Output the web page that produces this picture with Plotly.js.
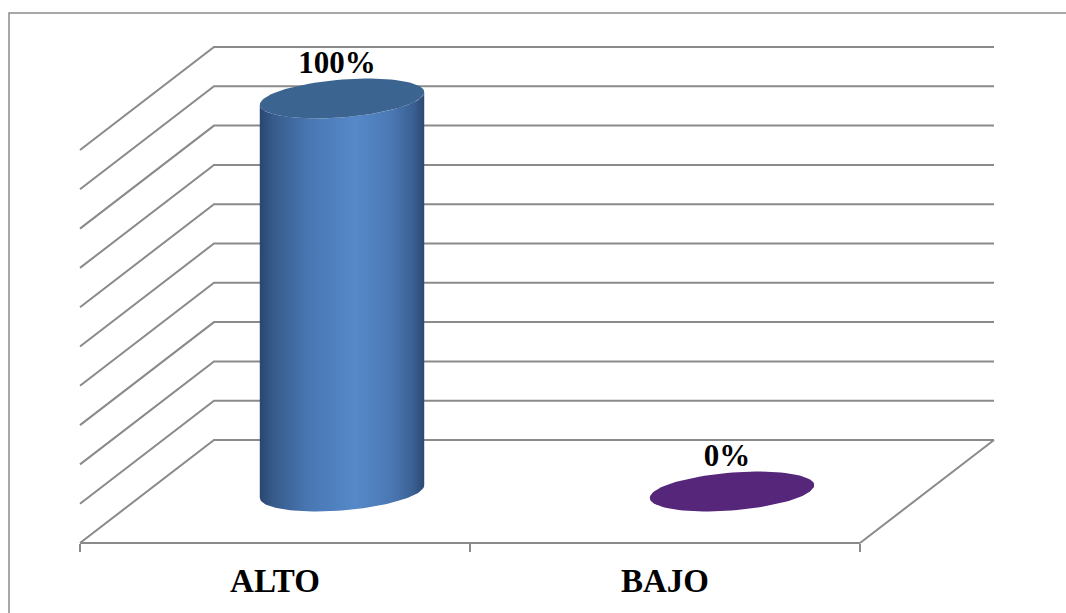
<!DOCTYPE html>
<html>
<head>
<meta charset="utf-8">
<script src="https://cdn.plot.ly/plotly-3.0.1.min.js"></script>
<style>html,body{margin:0;padding:0;background:#fff}#chart{width:1066px;height:613px}</style>
</head>
<body>
<div id="chart"></div>
<script>
// ---- data ----
const categories = ['ALTO', 'BAJO'];
const values = [1.0, 0.0];
const valueLabels = ['100%', '0%'];
const gridValues = [0, 0.1, 0.2, 0.3, 0.4, 0.5, 0.6, 0.7, 0.8, 0.9, 1.0];

// ---- projection (front plane units: 1 per category, 1 per 100%) ----
const DX = 134 / 390;   // x shift for full depth
const DY = 103 / 393;   // y shift for full depth
const BAR_DEPTH = 0.5;  // bars stand half way into the floor
const RX = 78 / 390;    // cylinder radius along x
const RD = 0.194;       // cylinder radius along depth
const LABEL_LIFT = 33 / 393;
const X0 = -0.5, X1 = 1.5;

const gridColor = '#8a8a8a';
const font = 'Liberation Serif, Times New Roman, serif';

// grid: back wall + side wall lines, floor right edge
const gx = [], gy = [];
gridValues.forEach(v => {
  gx.push(X0, X0 + DX, X1 + DX, null);
  gy.push(v, v + DY, v + DY, null);
});
gx.push(X1, X1 + DX, null);
gy.push(0, DY, null);

const traces = [{
  type: 'scatter', mode: 'lines', x: gx, y: gy,
  line: {color: gridColor, width: 2}, hoverinfo: 'skip', showlegend: false
}];

function ellipse(cx, cy, t0, t1, n) {
  const xs = [], ys = [];
  for (let i = 0; i <= n; i++) {
    const t = t0 + (t1 - t0) * i / n;
    xs.push(cx + RX * Math.cos(t) + RD * DX * Math.sin(t));
    ys.push(cy + RD * DY * Math.sin(t));
  }
  return [xs, ys];
}
const th = Math.atan2(RD * DX * 390, RX * 390); // silhouette angle

const bodyScale = [[0, '#2a4670'], [0.08, '#375b8a'], [0.3, '#4877b3'], [0.58, '#5689c9'],
                   [0.8, '#4a78b4'], [0.93, '#3b6194'], [1, '#2b4972']];
const topColors = ['#3c6491', '#56267a'];

categories.forEach((c, i) => {
  const cx = i + BAR_DEPTH * DX;
  const base = BAR_DEPTH * DY;
  const top = base + values[i];
  if (values[i] > 0) {
    const [tx, ty] = ellipse(cx, top, th, th - Math.PI, 60);
    const [bx, by] = ellipse(cx, base, th - Math.PI, th, 60);
    traces.push({
      type: 'scatter', mode: 'lines', x: tx.concat(bx), y: ty.concat(by),
      fill: 'toself', line: {width: 0, color: 'rgba(0,0,0,0)'},
      fillgradient: {type: 'horizontal', colorscale: bodyScale},
      hoverinfo: 'skip', showlegend: false
    });
  }
  const [ex, ey] = ellipse(cx, top, 0, 2 * Math.PI, 90);
  traces.push({
    type: 'scatter', mode: 'lines', x: ex, y: ey, fill: 'toself',
    fillcolor: topColors[i], line: {width: 0, color: topColors[i]},
    hoverinfo: 'skip', showlegend: false
  });
  traces.push({
    type: 'scatter', mode: 'text', x: [cx - 0.013], y: [top + LABEL_LIFT],
    text: [valueLabels[i]], textposition: 'middle center',
    textfont: {family: font, size: 31, color: '#000', weight: 'bold'},
    cliponaxis: false, hoverinfo: 'skip', showlegend: false
  });
});

// category axis carrier (front floor edge)
traces.push({
  type: 'scatter', mode: 'markers', x: categories, y: values,
  xaxis: 'x2', yaxis: 'y', marker: {opacity: 0, size: 1},
  hoverinfo: 'skip', showlegend: false
});

const W = 1066, H = 613;
const layout = {
  width: W, height: H,
  margin: {l: 0, r: 0, t: 0, b: 0},
  paper_bgcolor: '#fff', plot_bgcolor: 'rgba(0,0,0,0)',
  showlegend: false,
  xaxis: {range: [-275 / 390, (W - 275) / 390], visible: false, fixedrange: true},
  yaxis: {range: [-(H - 543) / 393, 543 / 393], visible: false, fixedrange: true},
  xaxis2: {
    type: 'category', categoryorder: 'array', categoryarray: categories,
    domain: [80 / W, 860 / W], anchor: 'free', position: (H - 543) / H,
    range: [-0.5, 1.5], tickson: 'boundaries', ticks: 'outside', ticklen: 8,
    tickwidth: 2, tickcolor: gridColor, showline: true, linecolor: gridColor, linewidth: 2,
    showgrid: false, zeroline: false, fixedrange: true, ticklabelstandoff: 8,
    tickfont: {family: font, size: 33, color: '#000', weight: 'bold'}
  },
  shapes: [{
    type: 'rect', xref: 'paper', yref: 'paper', layer: 'below',
    x0: 9 / W, x1: 1.02, y0: -0.03, y1: 1 - 13 / H,
    line: {color: '#8c8c8c', width: 1.5}
  }]
};

Plotly.newPlot('chart', traces, layout, {displayModeBar: false, staticPlot: true});
</script>
</body>
</html>
